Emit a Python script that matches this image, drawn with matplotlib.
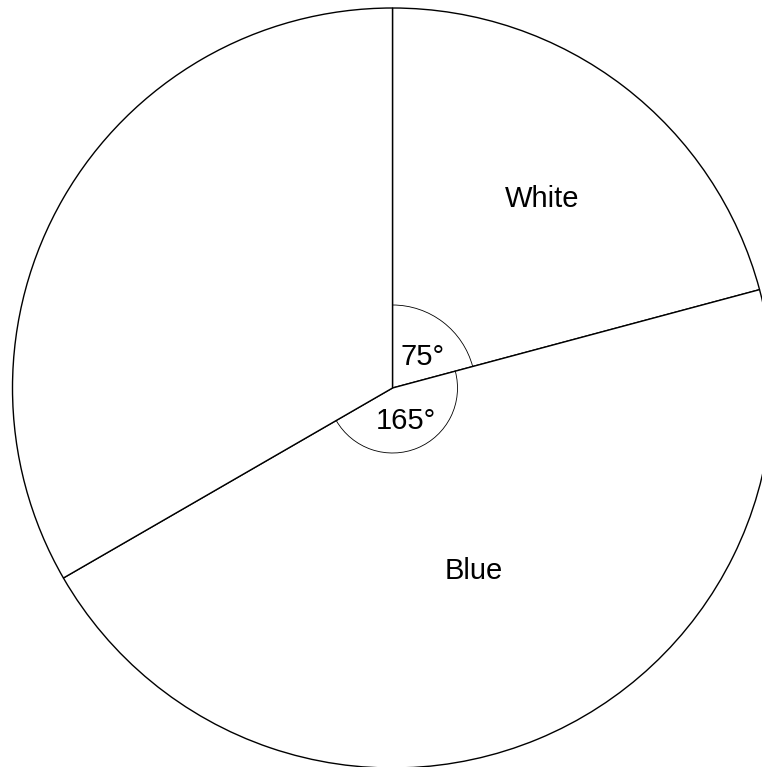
import numpy as np
import matplotlib
matplotlib.use("Agg")
import matplotlib.pyplot as plt
from matplotlib.patches import Arc

plt.rcParams['font.family'] = ['Liberation Sans', 'DejaVu Sans']

# Data
categories = ["White", "Blue", ""]
angles_deg = [75, 165, 120]
angle_labels = ["75°", "165°"]

W, H = 762, 767
fig = plt.figure(figsize=(W / 100, H / 100), dpi=100)
ax = fig.add_axes([0, 0, 1, 1])

cx, cy = 392.5, H - 388
R = 380

wedges, _ = ax.pie(angles_deg, startangle=90, counterclock=False,
                   center=(cx, cy), radius=R,
                   wedgeprops=dict(facecolor='white', edgecolor='black', linewidth=1.0))

# label placement (style)
name_r = [0.64, 0.52]
name_da = [-0.4, 1.8]
arc_r = [83, 65]
num_r = [0.55, 0.51]
num_da = [-4.0, 1.5]
fs = 21
start = 90.0
for i, (name, a) in enumerate(zip(categories, angles_deg)):
    end = start - a
    midd = (start + end) / 2
    if name:
        r = name_r[i] * R
        m = np.deg2rad(midd + name_da[i])
        ax.text(cx + r * np.cos(m), cy + r * np.sin(m), name,
                ha='center', va='center_baseline', fontsize=fs)
    if i < len(angle_labels):
        ar = arc_r[i]
        ax.add_patch(Arc((cx, cy), 2 * ar, 2 * ar, theta1=end, theta2=start,
                         edgecolor='black', linewidth=0.6))
        rr = num_r[i] * ar
        m = np.deg2rad(midd + num_da[i])
        ax.text(cx + rr * np.cos(m), cy + rr * np.sin(m), angle_labels[i],
                ha='center', va='center_baseline', fontsize=fs)
    start = end

ax.set_xlim(0, W)
ax.set_ylim(0, H)
ax.set_aspect('auto')
ax.set_axis_off()

fig.savefig("out.png", dpi=100, facecolor='white')
